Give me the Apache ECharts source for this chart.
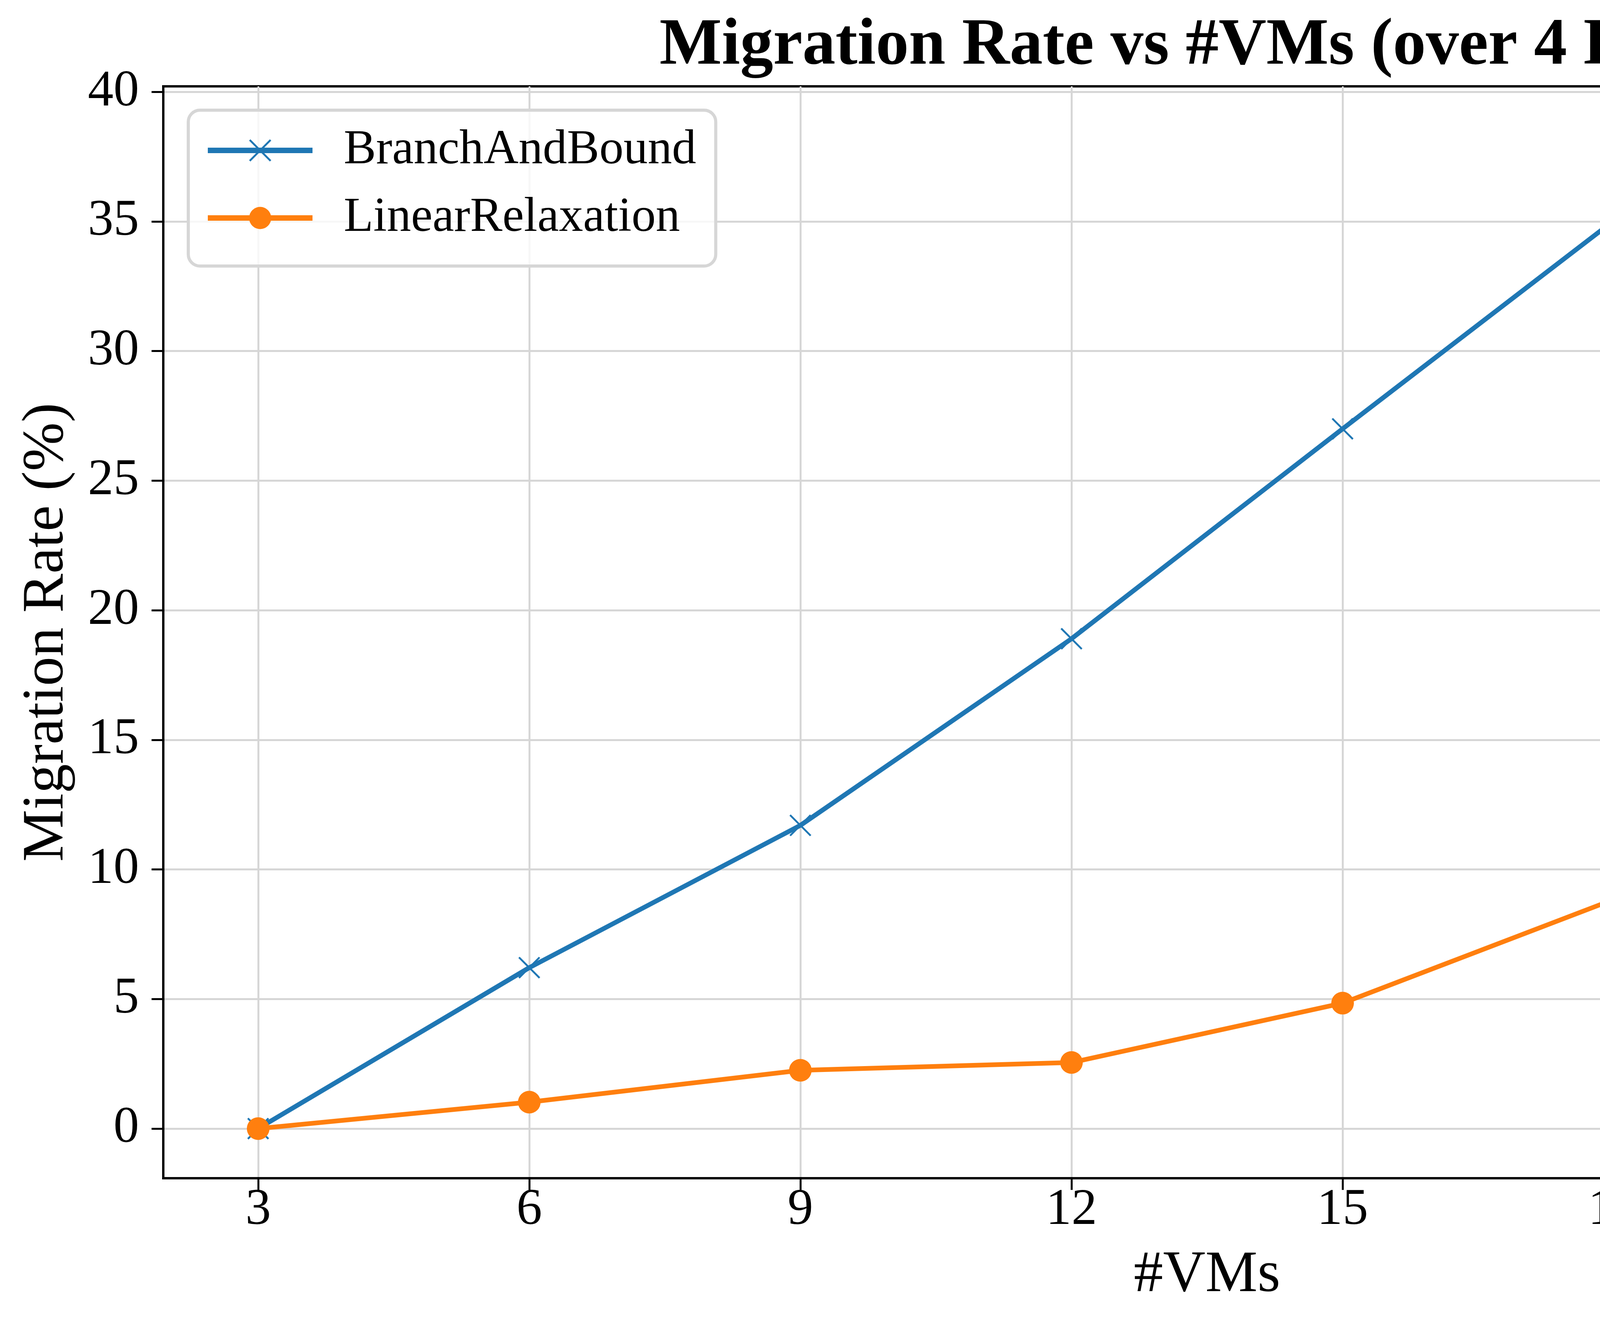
<!DOCTYPE html>
<html>
<head>
<meta charset="utf-8">
<title>Migration Rate vs #VMs</title>
<script src="https://cdn.jsdelivr.net/npm/echarts@6/dist/echarts.min.js"></script>
<style>
  html, body { margin: 0; padding: 0; background: #ffffff; overflow: hidden; }
  #chart { width: 5823px; height: 3425px; }
</style>
</head>
<body>
<div id="chart"></div>
<script>
// values
const vmCounts = [3, 6, 9, 12, 15, 18, 21, 24];
const branchAndBound = [0, 6.21, 11.70, 18.9, 27.0, 35.03, 37.35, 38.3];
const linearRelaxation = [0, 1.02, 2.25, 2.55, 4.84, 8.84, 11.37, 13.13];
const yTicks = [0, 5, 10, 15, 20, 25, 30, 35, 40];
const xTicks = [3, 6, 9, 12, 15, 18, 21, 24];

const FONT = '"Liberation Serif", "Times New Roman", serif';
const BLUE = '#1f77b4';
const ORANGE = '#ff7f0e';
const GRID = '#d6d6d6';

// thin "x" marker drawn as a filled polygon
const xMarker = 'path://M0,0.6L0.6,0L5,4.4L9.4,0L10,0.6L5.6,5L10,9.4L9.4,10L5,5.6L0.6,10L0,9.4L4.4,5Z';

// matplotlib-like 5% padding around the data range
const pad = () => ({
  min: v => v.min - 0.05 * (v.max - v.min),
  max: v => v.max + 0.05 * (v.max - v.min)
});

const chart = echarts.init(document.getElementById('chart'), null, { renderer: 'canvas' });

chart.setOption({
  animation: false,
  backgroundColor: '#ffffff',
  title: {
    text: 'Migration Rate vs #VMs (over 4 Hosts)',
    left: 3096,
    top: 30,
    textAlign: 'center',
    textStyle: { fontFamily: FONT, fontWeight: 'bold', fontSize: 169, color: '#000' }
  },
  legend: {
    left: 482,
    top: 282,
    orient: 'vertical',
    itemWidth: 268,
    itemHeight: 71,
    itemGap: 49,
    padding: [41, 50, 61, 43],
    backgroundColor: 'rgba(255,255,255,0.8)',
    borderColor: '#d6d6d6',
    borderWidth: 8,
    borderRadius: 30,
    lineStyle: { width: 14 },
    textStyle: { fontFamily: FONT, fontSize: 124, color: '#000', padding: [0, 0, 0, 75] },
    data: ['BranchAndBound', 'LinearRelaxation']
  },
  grid: {
    left: 418,
    right: 61,
    top: 221,
    bottom: 409,
    show: true,
    borderColor: '#000',
    borderWidth: 6,
    containLabel: false
  },
  xAxis: {
    type: 'value',
    ...pad(),
    name: '#VMs',
    nameLocation: 'middle',
    nameGap: 175,
    nameMoveOverlap: false,
    nameTextStyle: { fontFamily: FONT, fontSize: 150, color: '#000' },
    axisLine: { show: true, onZero: false, lineStyle: { color: '#000', width: 6 } },
    axisTick: { show: true, length: 30, lineStyle: { color: '#000', width: 5 }, customValues: xTicks },
    axisLabel: { fontFamily: FONT, fontSize: 131, color: '#000', margin: 17, customValues: xTicks },
    splitLine: { show: true, lineStyle: { color: GRID, width: 5 } }
  },
  yAxis: {
    type: 'value',
    ...pad(),
    name: 'Migration Rate (%)',
    nameLocation: 'middle',
    nameGap: 222,
    nameMoveOverlap: false,
    nameTextStyle: { fontFamily: FONT, fontSize: 150, color: '#000' },
    axisLine: { show: true, onZero: false, lineStyle: { color: '#000', width: 6 } },
    axisTick: { show: true, length: 30, lineStyle: { color: '#000', width: 5 }, customValues: yTicks },
    axisLabel: { fontFamily: FONT, fontSize: 131, color: '#000', margin: 62, customValues: yTicks },
    splitLine: { show: true, lineStyle: { color: GRID, width: 5 } }
  },
  series: [
    {
      name: 'BranchAndBound',
      type: 'line',
      data: vmCounts.map((x, i) => [x, branchAndBound[i]]),
      symbol: xMarker,
      symbolSize: 56,
      showAllSymbol: true,
      lineStyle: { color: BLUE, width: 12 },
      itemStyle: { color: BLUE, borderWidth: 0 }
    },
    {
      name: 'LinearRelaxation',
      type: 'line',
      data: vmCounts.map((x, i) => [x, linearRelaxation[i]]),
      symbol: 'circle',
      symbolSize: 58,
      showAllSymbol: true,
      lineStyle: { color: ORANGE, width: 12 },
      itemStyle: { color: ORANGE, borderWidth: 0 }
    }
  ]
});
</script>
</body>
</html>
